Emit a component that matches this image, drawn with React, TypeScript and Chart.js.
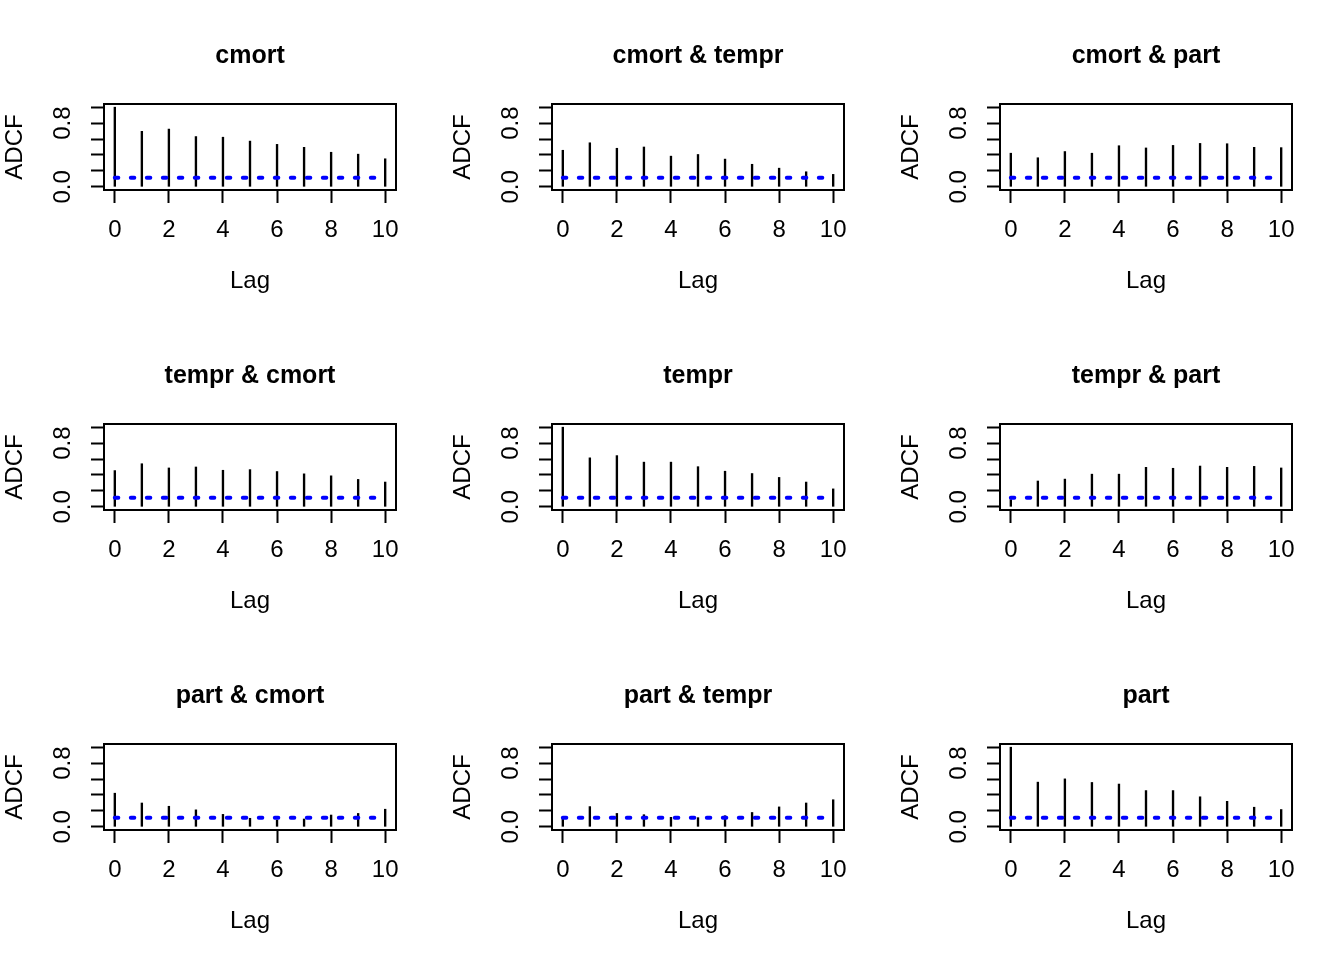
import React, { useEffect, useRef } from "react";
import { Chart, registerables } from "chart.js";

Chart.register(...registerables);

// ---- data ----
const lags = [0, 1, 2, 3, 4, 5, 6, 7, 8, 9, 10];
const xTickValues = [0, 2, 4, 6, 8, 10];
const xTickLabels = ["0", "2", "4", "6", "8", "10"];
const yTickValues = [0, 0.2, 0.4, 0.6, 0.8, 1.0];
const yTickLabels = ["0.0", "", "", "", "0.8", ""];
const criticalValue = 0.115;

const panelTitles = [
  "cmort",
  "cmort & tempr",
  "cmort & part",
  "tempr & cmort",
  "tempr",
  "tempr & part",
  "part & cmort",
  "part & tempr",
  "part",
];

const adcfCmort = [1.0, 0.697, 0.725, 0.631, 0.623, 0.574, 0.533, 0.496, 0.434, 0.41, 0.352];
const adcfCmortTempr = [0.459, 0.553, 0.484, 0.5, 0.385, 0.406, 0.348, 0.283, 0.234, 0.189, 0.156];
const adcfCmortPart = [0.422, 0.365, 0.443, 0.422, 0.516, 0.488, 0.52, 0.545, 0.541, 0.496, 0.492];
const adcfTemprCmort = [0.455, 0.541, 0.488, 0.5, 0.459, 0.467, 0.443, 0.414, 0.389, 0.344, 0.311];
const adcfTempr = [1.0, 0.615, 0.643, 0.561, 0.561, 0.504, 0.447, 0.418, 0.369, 0.311, 0.225];
const adcfTemprPart = [0.09, 0.324, 0.348, 0.41, 0.41, 0.496, 0.484, 0.512, 0.496, 0.508, 0.488];
const adcfPartCmort = [0.422, 0.299, 0.258, 0.213, 0.156, 0.107, 0.086, 0.098, 0.148, 0.168, 0.221];
const adcfPartTempr = [0.098, 0.254, 0.168, 0.152, 0.119, 0.115, 0.139, 0.18, 0.25, 0.299, 0.34];
const adcfPart = [1.0, 0.561, 0.602, 0.557, 0.537, 0.455, 0.455, 0.377, 0.32, 0.246, 0.217];

const panelValues = [
  adcfCmort,
  adcfCmortTempr,
  adcfCmortPart,
  adcfTemprCmort,
  adcfTempr,
  adcfTemprPart,
  adcfPartCmort,
  adcfPartTempr,
  adcfPart,
];

// ---- layout constants ----
const PANEL_W = 448;
const PANEL_H = 320;
const FONT = '"Liberation Sans", Arial, Helvetica, sans-serif';

const boxPlugin = {
  id: "plotBox",
  afterDatasetsDraw(chart: any) {
    const { ctx, chartArea } = chart;
    const { left, top, right, bottom } = chartArea;
    ctx.save();
    ctx.strokeStyle = "#000";
    ctx.lineWidth = 2;
    ctx.strokeRect(left, top, right - left, bottom - top);
    ctx.restore();
  },
};

function Panel({ title, values }: { title: string; values: number[] }) {
  const ref = useRef<HTMLCanvasElement | null>(null);

  useEffect(() => {
    if (!ref.current) return;
    const chart = new Chart(ref.current, {
      type: "bar",
      data: {
        datasets: [
          {
            type: "line",
            data: [
              { x: lags[0], y: criticalValue },
              { x: lags[lags.length - 1], y: criticalValue },
            ],
            borderColor: "#0000FF",
            borderWidth: 4,
            borderDash: [3.5, 12.5],
            borderCapStyle: "round",
            pointRadius: 0,
            fill: false,
            order: 0,
          } as any,
          {
            type: "bar",
            data: lags.map((l, i) => ({ x: l, y: values[i] })),
            backgroundColor: "#000",
            borderWidth: 0,
            barThickness: 1.7,
            order: 1,
          } as any,
        ],
      },
      options: {
        animation: false,
        responsive: false,
        devicePixelRatio: 1,
        layout: { padding: { left: 0, right: 52, top: 0, bottom: 0 } },
        plugins: {
          legend: { display: false },
          tooltip: { enabled: false },
          title: {
            display: true,
            text: title,
            fullSize: false,
            color: "#000",
            font: { family: FONT, size: 25, weight: "bold" },
            padding: { top: 41, bottom: 33 },
          },
        },
        scales: {
          x: {
            type: "linear",
            min: -0.4,
            max: 10.4,
            offset: false,
            afterBuildTicks: (scale: any) => {
              scale.ticks = xTickValues.map((v) => ({ value: v }));
            },
            afterFit: (scale: any) => {
              scale.height = 130;
            },
            ticks: {
              autoSkip: false,
              maxRotation: 0,
              minRotation: 0,
              padding: 13,
              color: "#000",
              font: { family: FONT, size: 24 },
              callback: (_v: any, i: number) => xTickLabels[i],
            },
            grid: {
              offset: false,
              drawOnChartArea: false,
              drawTicks: true,
              tickLength: 13,
              tickWidth: 2,
              tickColor: "#000",
            },
            border: { display: false },
            title: {
              display: true,
              text: "Lag",
              color: "#000",
              font: { family: FONT, size: 24 },
              padding: { top: 0, bottom: 24 },
            },
          },
          y: {
            type: "linear",
            min: -0.04,
            max: 1.04,
            afterBuildTicks: (scale: any) => {
              scale.ticks = yTickValues.map((v) => ({ value: v }));
            },
            afterFit: (scale: any) => {
              scale.width = 104;
            },
            ticks: {
              autoSkip: false,
              minRotation: 90,
              maxRotation: 90,
              crossAlign: "center",
              padding: 11,
              color: "#000",
              font: { family: FONT, size: 24 },
              callback: (_v: any, i: number) => yTickLabels[i],
            },
            grid: {
              drawOnChartArea: false,
              drawTicks: true,
              tickLength: 13,
              tickWidth: 2,
              tickColor: "#000",
            },
            border: { display: false },
            title: {
              display: true,
              text: "ADCF",
              color: "#000",
              font: { family: FONT, size: 24 },
              padding: { top: 1, bottom: 0 },
            },
          },
        },
      } as any,
      plugins: [boxPlugin],
    });
    return () => chart.destroy();
  }, [title, values]);

  return <canvas ref={ref} width={PANEL_W} height={PANEL_H} style={{ display: "block", width: PANEL_W, height: PANEL_H }} />;
}

export default function App() {
  return (
    <div
      style={{
        position: "absolute",
        left: 0,
        top: 0,
        width: PANEL_W * 3,
        height: PANEL_H * 3,
        background: "#fff",
      }}
    >
      {panelTitles.map((t, i) => (
        <div
          key={t}
          style={{
            position: "absolute",
            left: (i % 3) * PANEL_W,
            top: Math.floor(i / 3) * PANEL_H,
            width: PANEL_W,
            height: PANEL_H,
          }}
        >
          <Panel title={t} values={panelValues[i]} />
        </div>
      ))}
    </div>
  );
}
